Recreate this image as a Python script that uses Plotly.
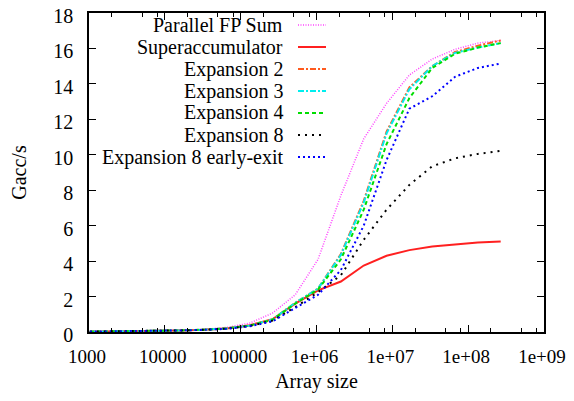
import plotly.graph_objects as go

# Array sizes: powers of two from 2^10 to 2^28
exponents = list(range(10, 29))
array_sizes = [2 ** k for k in exponents]

series_names = ["Parallel FP Sum", "Superaccumulator", "Expansion 2", "Expansion 3",
                "Expansion 4", "Expansion 8", "Expansion 8 early-exit"]

parallel_fp_sum = [0.02, 0.03, 0.04, 0.06, 0.10, 0.15, 0.26, 0.50, 1.06, 2.10,
                   4.10, 7.70, 10.90, 12.90, 14.50, 15.40, 15.95, 16.30, 16.45]
superaccumulator = [0.02, 0.03, 0.04, 0.06, 0.09, 0.13, 0.20, 0.38, 0.72, 1.60,
                    2.35, 2.85, 3.75, 4.30, 4.62, 4.82, 4.95, 5.05, 5.10]
expansion_2 = [0.02, 0.03, 0.04, 0.06, 0.09, 0.13, 0.20, 0.36, 0.70, 1.65,
               2.45, 4.40, 7.40, 11.30, 13.80, 15.00, 15.80, 16.15, 16.45]
expansion_3 = [0.02, 0.03, 0.04, 0.06, 0.09, 0.13, 0.20, 0.36, 0.70, 1.65,
               2.45, 4.35, 7.30, 11.20, 13.70, 15.00, 15.75, 16.05, 16.30]
expansion_4 = [0.02, 0.03, 0.04, 0.06, 0.09, 0.13, 0.20, 0.36, 0.69, 1.60,
               2.40, 4.10, 6.90, 10.60, 13.20, 14.90, 15.70, 16.05, 16.30]
expansion_8 = [0.02, 0.03, 0.04, 0.06, 0.09, 0.13, 0.19, 0.34, 0.64, 1.40,
               2.25, 3.20, 5.20, 6.90, 8.30, 9.35, 9.80, 10.05, 10.22]
expansion_8_ee = [0.02, 0.03, 0.04, 0.06, 0.09, 0.12, 0.18, 0.32, 0.60, 1.35,
                  2.10, 3.50, 6.00, 9.70, 12.60, 13.30, 14.40, 14.90, 15.15]

all_values = [parallel_fp_sum, superaccumulator, expansion_2, expansion_3,
              expansion_4, expansion_8, expansion_8_ee]

colors = ["#ff44ff", "#ff2020", "#ff5a1e", "#00eeee", "#00dd00", "#000000", "#0000ff"]
dashes = ["1px,1.5px", "solid", "6px,2px,2px,2px", "6px,2px,2px,2px", "4px,3px", "2px,5px", "2px,3px"]
widths = [1.5, 2.0, 2.0, 2.0, 2.0, 2.0, 2.0]

x_tickvals = [1e3, 1e4, 1e5, 1e6, 1e7, 1e8, 1e9]
x_ticktext = ["1000", "10000", "100000", "1e+06", "1e+07", "1e+08", "1e+09"]
x_minor = [m * 10 ** d for d in range(3, 9) for m in (2, 5, 8)]
y_tickvals = list(range(0, 19, 2))

FONT = "Liberation Serif"

# The page body has an 8px margin; size the figure so the page does not scroll
FIG_W, FIG_H = 566, 385
M_L, M_R, M_T, M_B = 81, 30, 5, 61
W_PLOT = FIG_W - M_L - M_R
H_PLOT = FIG_H - M_T - M_B

fig = go.Figure()
for name, vals, c, d, w in zip(series_names, all_values, colors, dashes, widths):
    fig.add_trace(go.Scatter(x=array_sizes, y=vals, mode="lines", name=name,
                             line=dict(color=c, dash=d, width=w), showlegend=False))

# Manual gnuplot-style legend: right-aligned text with line samples to the right
text_right = (277 - M_L) / W_PLOT
s0 = (290 - M_L) / W_PLOT
s1 = (318 - M_L) / W_PLOT
for i, (name, c, d, w) in enumerate(zip(series_names, colors, dashes, widths)):
    py = 17 + 22 * i  # figure-pixel row centre
    yp = (FIG_H - M_B - py) / H_PLOT
    fig.add_annotation(x=text_right, y=yp, xref="paper", yref="paper", text=name,
                       showarrow=False, xanchor="right", yanchor="middle",
                       font=dict(family=FONT, size=20, color="black"))
    fig.add_shape(type="line", xref="paper", yref="paper", x0=s0, x1=s1, y0=yp, y1=yp,
                  line=dict(color=c, dash=d, width=w))

fig.update_layout(
    width=FIG_W, height=FIG_H,
    margin=dict(l=M_L, r=M_R, t=M_T, b=M_B, autoexpand=False),
    paper_bgcolor="white", plot_bgcolor="white",
    font=dict(family=FONT, size=20, color="black"),
    showlegend=False,
)
fig.update_xaxes(
    type="log", range=[3, 9], automargin=False, ticklabeloverflow="allow",
    tickmode="array", tickvals=x_tickvals, ticktext=x_ticktext,
    tickfont=dict(family=FONT, size=19),
    ticks="inside", ticklen=7, tickcolor="black", tickwidth=1,
    minor=dict(tickmode="array", tickvals=x_minor, ticks="inside", ticklen=4,
               tickcolor="black", tickwidth=1, showgrid=False),
    showline=True, linecolor="black", linewidth=1.5, mirror="ticks",
    showgrid=False, zeroline=False,
    title=dict(text="Array size", font=dict(family=FONT, size=20), standoff=10),
    ticklabelstandoff=6, ticklabelshift=-2,
)
fig.update_yaxes(
    range=[0, 18], automargin=False, ticklabeloverflow="allow",
    tickmode="array", tickvals=y_tickvals,
    ticks="inside", ticklen=7, tickcolor="black", tickwidth=1,
    showline=True, linecolor="black", linewidth=1.5, mirror="ticks",
    showgrid=False, zeroline=False,
    title=dict(text="Gacc/s", font=dict(family=FONT, size=20), standoff=24),
    ticklabelstandoff=10, ticklabelshift=3,
)

fig.write_html("out.html")
